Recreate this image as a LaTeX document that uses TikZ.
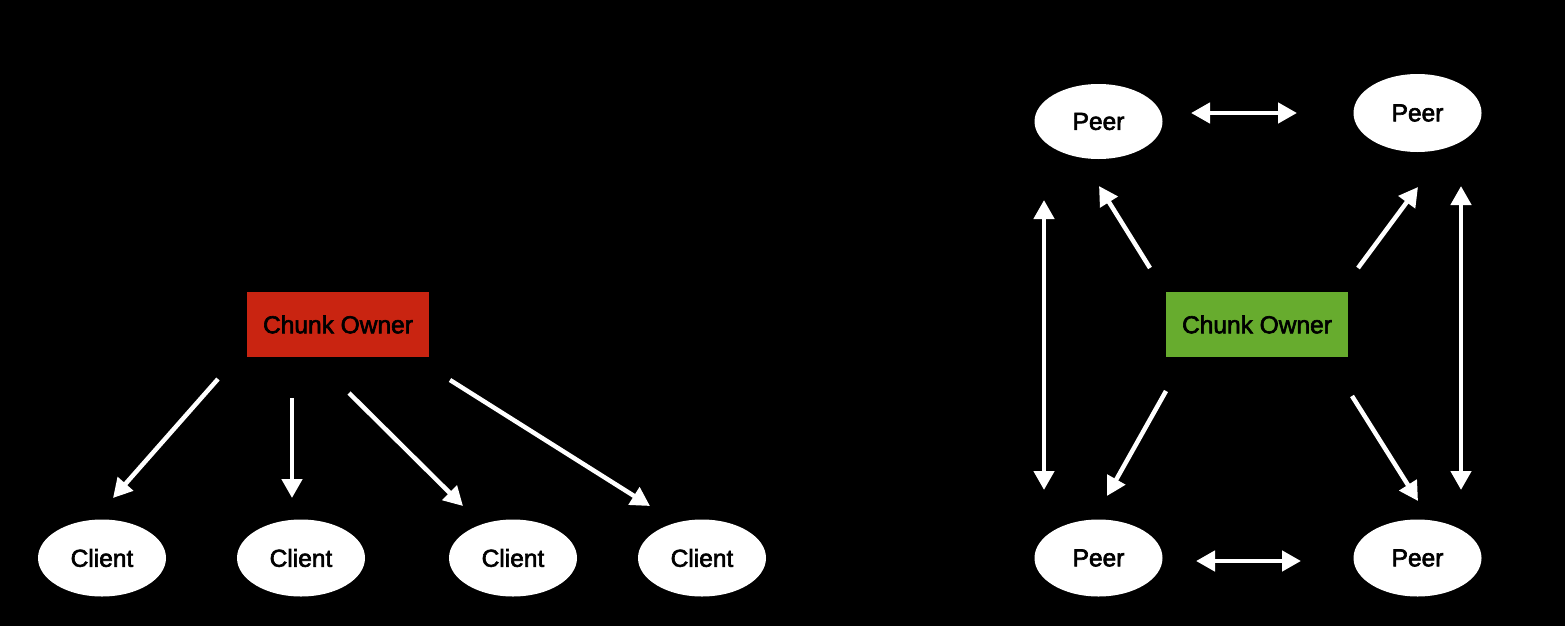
\documentclass[tikz,border=0pt]{standalone}
\usepackage{fontspec}
\setmainfont{Liberation Sans}
\newfontfamily\labfont[FakeBold=2.5]{Liberation Sans}
\usetikzlibrary{shapes.geometric,arrows.meta}
\definecolor{ownerred}{RGB}{201,36,17}
\definecolor{ownergreen}{RGB}{103,172,46}
\tikzset{
  ell/.style={ellipse,fill=white,minimum width=128pt,minimum height=77pt,inner sep=0pt,font=\labfont\fontsize{24.5}{28}\selectfont,text=black},
  owner/.style={rectangle,minimum width=182pt,minimum height=65pt,inner sep=0pt,font=\labfont\fontsize{24.5}{28}\selectfont,text=black},
  arr/.style={draw=white,line width=4.5pt,-{Triangle[length=19pt 0 0,width=20pt 0 0]}},
  darr/.style={draw=white,line width=4.5pt,{Triangle[length=19pt 0 0,width=20pt 0 0]}-{Triangle[length=19pt 0 0,width=20pt 0 0]}},
}
\begin{document}
\begin{tikzpicture}[x=1pt,y=-1pt]
\useasboundingbox (0,0) rectangle (1565,626);
\fill[black] (0,0) rectangle (1565,626);
% left
\node[owner,fill=ownerred] (co1) at (338,324.5) {Chunk Owner};
\node[ell] (c1) at (102,558) {Client};
\node[ell] (c2) at (301,558) {Client};
\node[ell] (c3) at (513,558) {Client};
\node[ell] (c4) at (702,558) {Client};
\coordinate (a1s) at (218,379); \coordinate (a1e) at (113,498);
\coordinate (a2s) at (292,398); \coordinate (a2e) at (292,498);
\coordinate (a3s) at (349,393); \coordinate (a3e) at (463,506);
\coordinate (a4s) at (450,380); \coordinate (a4e) at (650,506);
\draw[arr] (a1s) -- (a1e);
\draw[arr] (a2s) -- (a2e);
\draw[arr] (a3s) -- (a3e);
\draw[arr] (a4s) -- (a4e);
% right
\node[owner,fill=ownergreen] (co2) at (1257,324.5) {Chunk Owner};
\node[ell,minimum height=75pt] (p1) at (1098.5,121.5) {Peer};
\node[ell,minimum height=78pt] (p2) at (1417.5,113) {Peer};
\node[ell] (p3) at (1098.5,558) {Peer};
\node[ell] (p4) at (1417.5,558) {Peer};
\coordinate (b1s) at (1150,268); \coordinate (b1e) at (1099,186);
\coordinate (b2s) at (1358,268); \coordinate (b2e) at (1418,187);
\coordinate (b3s) at (1166,391); \coordinate (b3e) at (1107,496);
\coordinate (b4s) at (1352,396); \coordinate (b4e) at (1418,501);
\draw[arr] (b1s) -- (b1e);
\draw[arr] (b2s) -- (b2e);
\draw[arr] (b3s) -- (b3e);
\draw[arr] (b4s) -- (b4e);
\coordinate (h1s) at (1191,113); \coordinate (h1e) at (1297,113);
\coordinate (h2s) at (1196,561); \coordinate (h2e) at (1301,561);
\coordinate (v1s) at (1044,200); \coordinate (v1e) at (1044,490);
\coordinate (v2s) at (1461,186); \coordinate (v2e) at (1461,490);
\draw[darr] (h1s) -- (h1e);
\draw[darr] (h2s) -- (h2e);
\draw[darr] (v1s) -- (v1e);
\draw[darr] (v2s) -- (v2e);
\end{tikzpicture}
\end{document}
